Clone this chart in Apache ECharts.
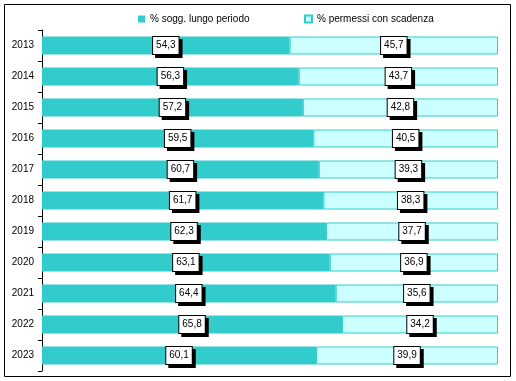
<!DOCTYPE html>
<html><head><meta charset="utf-8">
<script src="https://cdn.jsdelivr.net/npm/echarts@6/dist/echarts.min.js"></script>
<style>html,body{margin:0;padding:0;background:#fff}#c{width:516px;height:381px}</style>
</head><body><div id="c"></div>
<script>
const years = ['2013','2014','2015','2016','2017','2018','2019','2020','2021','2022','2023'];
const lungoPeriodo = [54.3,56.3,57.2,59.5,60.7,61.7,62.3,63.1,64.4,65.8,60.1];
const conScadenza = [45.7,43.7,42.8,40.5,39.3,38.3,37.7,36.9,35.6,34.2,39.9];
const seriesNames = ['% sogg. lungo periodo','% permessi con scadenza'];

const chart = echarts.init(document.getElementById('c'));
const font = 'Liberation Sans, Arial, sans-serif';
const lbl = {
  show: true, position: 'inside', color: '#000', fontFamily: font, fontSize: 10,
  backgroundColor: '#fff', borderColor: '#000', borderWidth: 1,
  padding: [4, 3, 3, 3],
  shadowColor: '#000', shadowOffsetX: 3, shadowOffsetY: 3, shadowBlur: 0,
  formatter: p => p.value.toFixed(1).replace('.', ',')
};
const legTxt = {fontFamily: font, fontSize: 10, color: '#000'};
chart.setOption({
  animation: false,
  graphic: [{type:'rect', shape:{x:4.5,y:4.5,width:506,height:372}, style:{fill:'none',stroke:'#000',lineWidth:1}, silent:true}],
  legend: [
    {top: 9, left: 133, itemWidth: 7, itemHeight: 7, textStyle: legTxt,
     data: [{name: seriesNames[0], icon: 'rect'}]},
    {top: 9, left: 299, itemWidth: 7, itemHeight: 7, textStyle: legTxt,
     data: [{name: seriesNames[1], icon: 'rect'}]}
  ],
  grid: {left: 42, right: 18, top: 30, bottom: 10},
  xAxis: {type: 'value', min: 0, max: 100, show: false},
  yAxis: {
    type: 'category', data: years, inverse: true,
    axisLine: {show: true, lineStyle: {color: '#000'}},
    axisTick: {show: true, length: 4, lineStyle: {color: '#000'}},
    axisLabel: {fontFamily: font, fontSize: 10, color: '#000', margin: 8}
  },
  series: [
    {name: seriesNames[0], type: 'bar', stack: 't', data: lungoPeriodo, barWidth: 18,
     itemStyle: {color: '#33CCCC'}, label: lbl},
    {name: seriesNames[1], type: 'bar', stack: 't', data: conScadenza, barWidth: 18,
     itemStyle: {color: '#CCFFFF', borderColor: '#33CCCC', borderWidth: 1}, label: lbl}
  ]
});
</script></body></html>
